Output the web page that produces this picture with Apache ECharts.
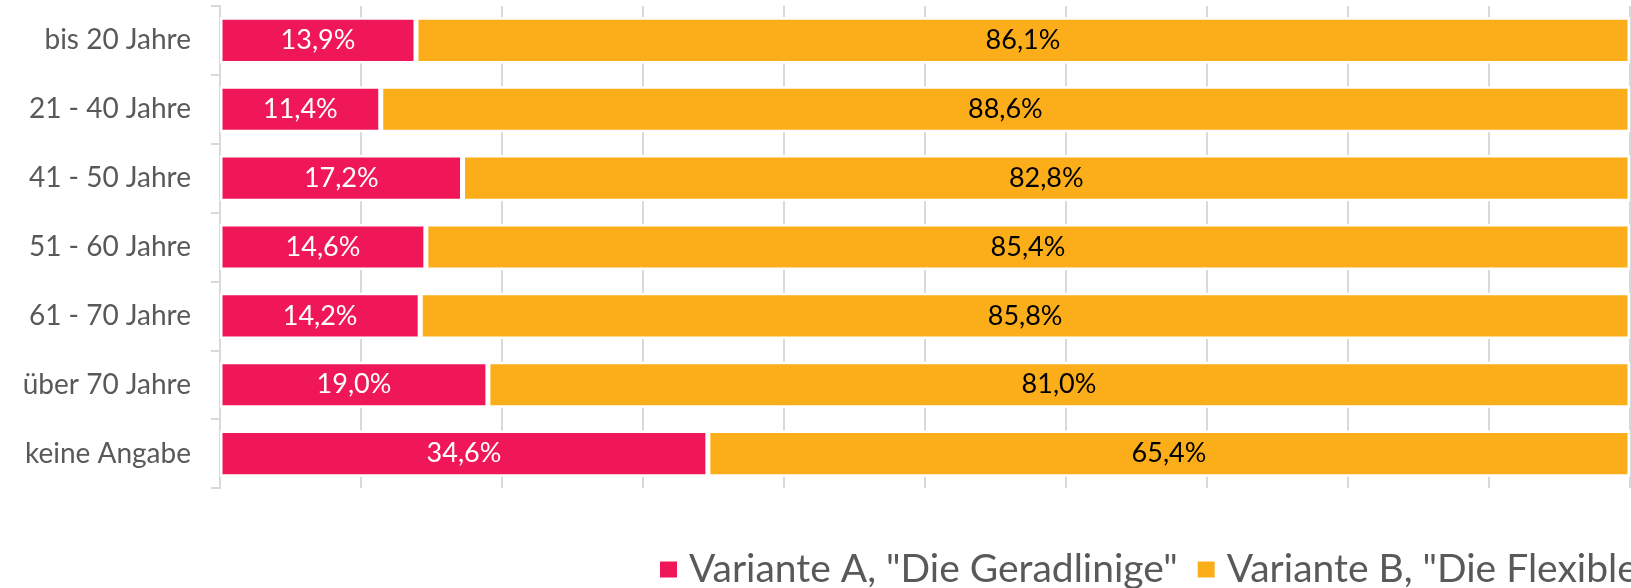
<!DOCTYPE html>
<html>
<head>
<meta charset="utf-8">
<script src="https://cdn.jsdelivr.net/npm/echarts@6/dist/echarts.min.js"></script>
<style>
  html, body { margin: 0; padding: 0; background: #fff; }
  #chart { width: 1631px; height: 588px; }
</style>
</head>
<body>
<div id="chart"></div>
<script>
// Altersgruppen (von oben nach unten)
var categories = ['bis 20 Jahre', '21 - 40 Jahre', '41 - 50 Jahre', '51 - 60 Jahre', '61 - 70 Jahre', 'über 70 Jahre', 'keine Angabe'];
var seriesNames = ['Variante A, "Die Geradlinige"', 'Variante B, "Die Flexible"'];
var varianteA = [13.9, 11.4, 17.2, 14.6, 14.2, 19.0, 34.6];
var varianteB = [86.1, 88.6, 82.8, 85.4, 85.8, 81.0, 65.4];
var xTicks = { min: 0, max: 100, interval: 10 };

var myChart = echarts.init(document.getElementById('chart'));
var fontName = 'Lato';

function pct(p) {
    return p.value.toFixed(1).replace('.', ',') + '%';
}

var option = {
    animation: false,
    color: ['#EF1757', '#FCAE1A'],
    grid: { left: 220, right: 1, top: 6, bottom: 100, containLabel: false },
    legend: {
        left: 653,
        top: 545,
        width: 1600,
        itemWidth: 19,
        itemHeight: 18,
        itemGap: 18,
        icon: 'rect',
        data: seriesNames,
        textStyle: { fontFamily: fontName, fontSize: 39, color: '#595959', padding: [0, 0, 0, 6] }
    },
    xAxis: {
        type: 'value',
        min: xTicks.min,
        max: xTicks.max,
        interval: xTicks.interval,
        axisLine: { show: false },
        axisTick: { show: false },
        axisLabel: { show: false },
        splitLine: { show: true, lineStyle: { color: '#d9d9d9', width: 2 } }
    },
    yAxis: {
        type: 'category',
        inverse: true,
        data: categories,
        axisLine: { show: true, lineStyle: { color: '#d9d9d9', width: 2 } },
        axisTick: { show: true, length: 9, lineStyle: { color: '#d9d9d9', width: 2 } },
        axisLabel: { margin: 29, fontFamily: fontName, fontSize: 28, color: '#595959' }
    },
    series: [
        {
            name: seriesNames[0],
            type: 'bar',
            stack: 'total',
            barWidth: '67%',
            data: varianteA,
            itemStyle: { borderColor: '#fff', borderWidth: 2.5 },
            label: { show: true, position: 'inside', formatter: pct, fontFamily: fontName, fontSize: 27, color: '#fff' }
        },
        {
            name: seriesNames[1],
            type: 'bar',
            stack: 'total',
            barWidth: '67%',
            data: varianteB,
            itemStyle: { borderColor: '#fff', borderWidth: 2.5 },
            label: { show: true, position: 'inside', formatter: pct, fontFamily: fontName, fontSize: 27, color: '#000' }
        }
    ]
};
myChart.setOption(option);
</script>
</body>
</html>
